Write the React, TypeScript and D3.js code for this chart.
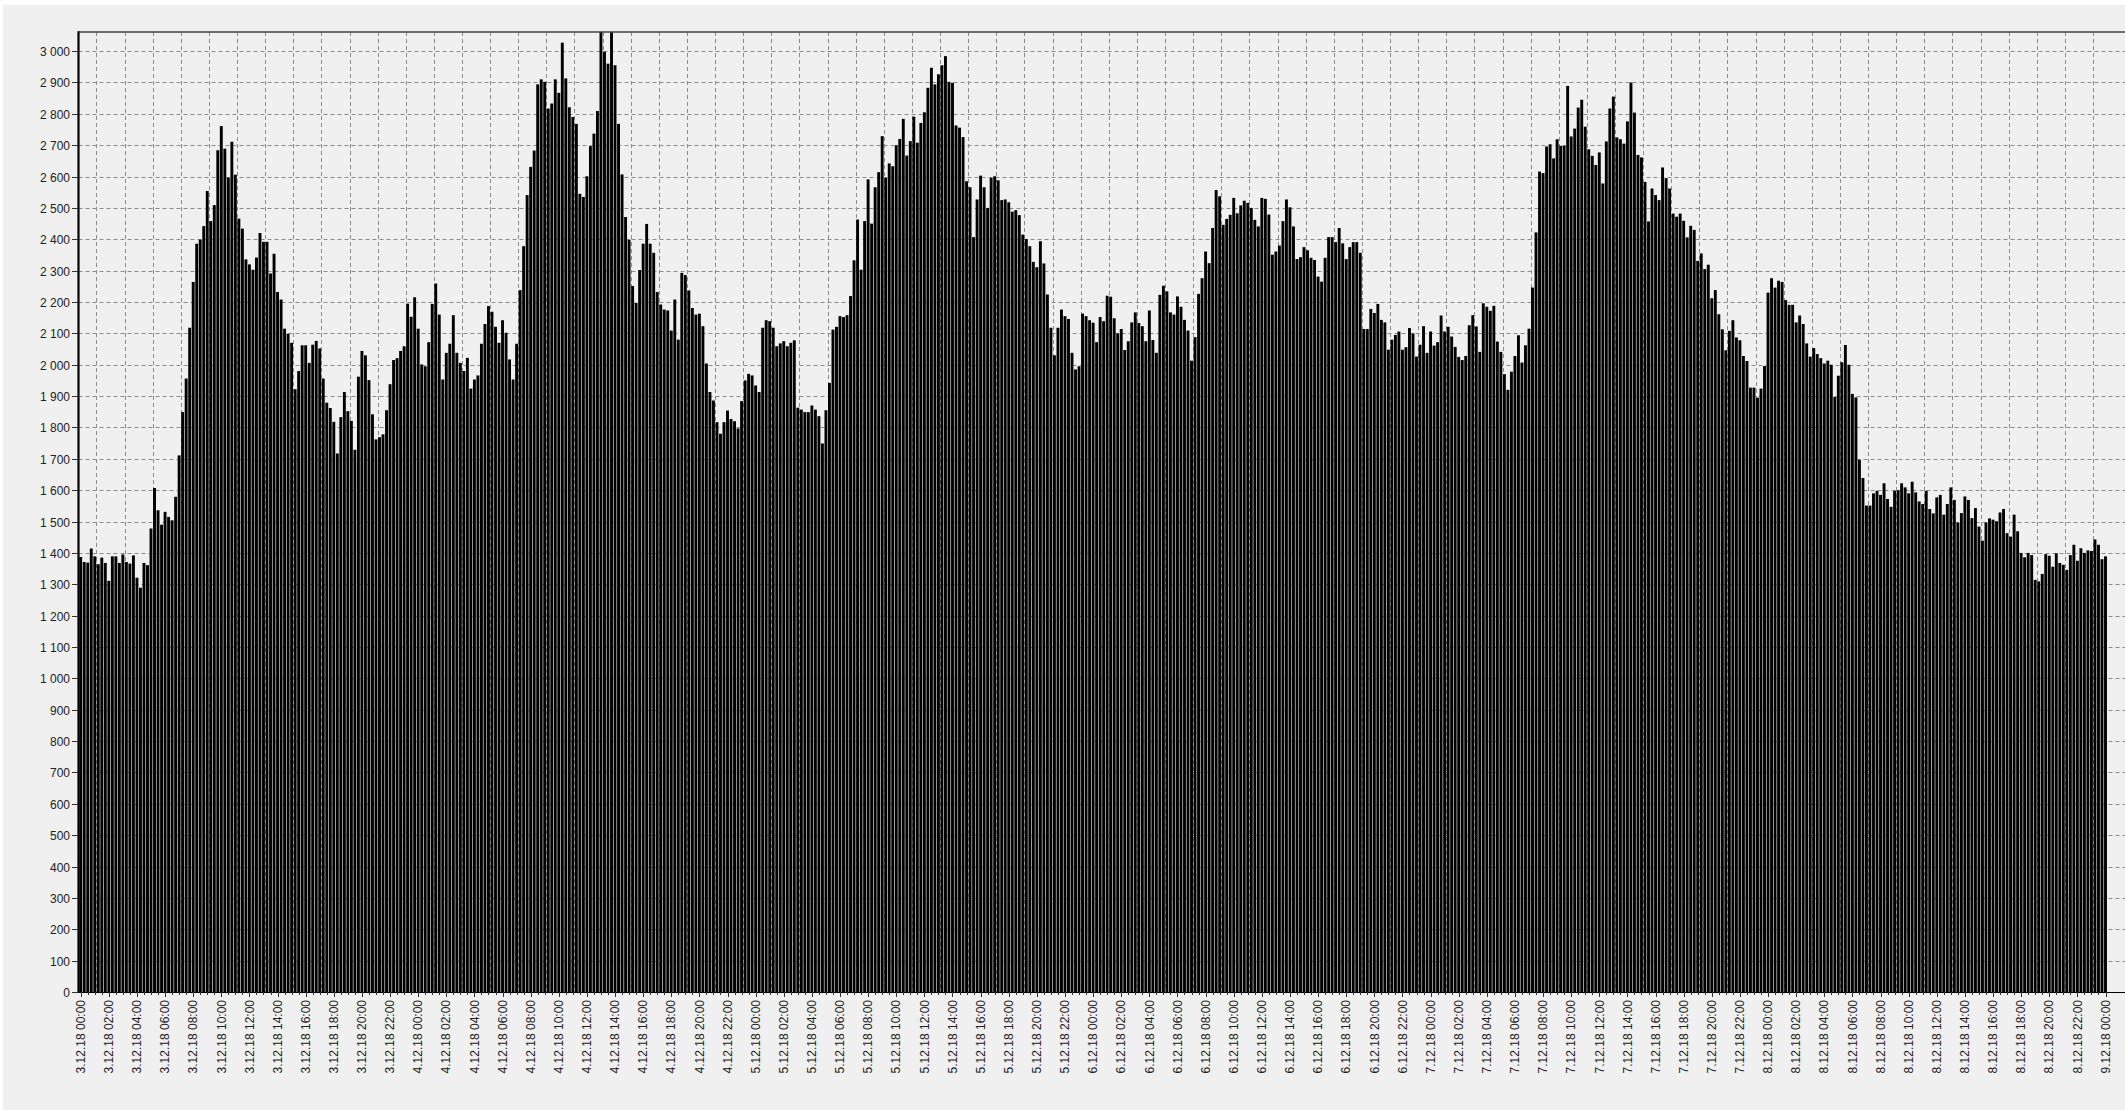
import React from "react";
import * as d3 from "d3";

const WIDTH = 2125;
const HEIGHT = 1110;

// Quarter-hour load values, one array per day (96 slots each)
const day03 = [
  1387, 1371, 1369, 1414, 1389, 1364, 1385, 1368, 1311, 1389,
  1389, 1368, 1395, 1371, 1366, 1392, 1321, 1289, 1368, 1361,
  1478, 1607, 1536, 1490, 1531, 1515, 1504, 1579, 1711, 1849,
  1956, 2118, 2264, 2386, 2399, 2442, 2554, 2458, 2509, 2684,
  2761, 2689, 2597, 2711, 2606, 2466, 2434, 2336, 2320, 2303,
  2342, 2420, 2392, 2392, 2291, 2354, 2232, 2208, 2115, 2099,
  2070, 1922, 1980, 2062, 2062, 2006, 2064, 2076, 2052, 1956,
  1879, 1862, 1818, 1717, 1833, 1913, 1852, 1821, 1729, 1962,
  2044, 2030, 1951, 1842, 1762, 1769, 1778, 1855, 1938, 2015,
  2021, 2044, 2059, 2195, 2153, 2215,
];

const day04 = [
  2115, 2001, 1995, 2072, 2194, 2259, 2160, 1953, 2038, 2067,
  2158, 2038, 2006, 1980, 2022, 1924, 1953, 1966, 2067, 2130,
  2187, 2169, 2121, 2070, 2142, 2102, 2017, 1953, 2067, 2238,
  2378, 2541, 2631, 2683, 2894, 2910, 2902, 2817, 2833, 2910,
  2867, 3027, 2913, 2821, 2790, 2768, 2545, 2535, 2601, 2697,
  2737, 2809, 3080, 2998, 2960, 3080, 2955, 2768, 2607, 2471,
  2399, 2251, 2197, 2302, 2386, 2449, 2386, 2357, 2232, 2192,
  2176, 2173, 2109, 2208, 2080, 2293, 2286, 2237, 2181, 2160,
  2163, 2123, 2004, 1913, 1886, 1817, 1780, 1817, 1854, 1827,
  1820, 1797, 1884, 1950, 1971, 1966,
];

const day05 = [
  1934, 1913, 2118, 2142, 2139, 2118, 2059, 2068, 2075, 2059,
  2070, 2078, 1863, 1857, 1849, 1849, 1870, 1857, 1836, 1749,
  1855, 1942, 2112, 2121, 2155, 2152, 2158, 2219, 2333, 2463,
  2303, 2458, 2591, 2450, 2566, 2614, 2729, 2596, 2642, 2633,
  2700, 2720, 2784, 2667, 2713, 2791, 2708, 2771, 2805, 2883,
  2947, 2894, 2926, 2955, 2984, 2902, 2899, 2763, 2756, 2726,
  2585, 2566, 2407, 2527, 2603, 2566, 2500, 2596, 2601, 2588,
  2525, 2527, 2518, 2488, 2493, 2477, 2415, 2401, 2378, 2328,
  2311, 2394, 2323, 2224, 2118, 2030, 2118, 2176, 2155, 2146,
  2038, 1985, 1995, 2163, 2155, 2142,
];

const day06 = [
  2134, 2072, 2152, 2139, 2220, 2217, 2148, 2100, 2114, 2047,
  2075, 2135, 2167, 2133, 2123, 2075, 2173, 2079, 2038, 2223,
  2252, 2234, 2167, 2160, 2218, 2185, 2143, 2109, 2013, 2088,
  2226, 2276, 2361, 2324, 2436, 2557, 2537, 2446, 2465, 2478,
  2532, 2483, 2508, 2523, 2516, 2500, 2462, 2441, 2532, 2529,
  2479, 2351, 2361, 2380, 2458, 2527, 2502, 2441, 2337, 2343,
  2375, 2365, 2341, 2334, 2281, 2265, 2341, 2407, 2407, 2391,
  2436, 2387, 2337, 2375, 2391, 2391, 2357, 2114, 2114, 2178,
  2165, 2194, 2143, 2135, 2048, 2080, 2095, 2106, 2048, 2056,
  2117, 2100, 2026, 2064, 2123, 2038,
];

const day07 = [
  2106, 2061, 2072, 2157, 2106, 2121, 2090, 2057, 2025, 2015,
  2028, 2126, 2158, 2122, 2041, 2196, 2185, 2172, 2188, 2074,
  2041, 1970, 1920, 1978, 2028, 2094, 2007, 2062, 2115, 2246,
  2422, 2616, 2611, 2696, 2703, 2658, 2719, 2698, 2698, 2889,
  2728, 2753, 2820, 2845, 2759, 2687, 2666, 2637, 2677, 2578,
  2712, 2817, 2855, 2725, 2719, 2705, 2776, 2900, 2804, 2669,
  2661, 2583, 2457, 2562, 2541, 2525, 2629, 2595, 2562, 2482,
  2472, 2482, 2459, 2406, 2443, 2430, 2331, 2355, 2305, 2319,
  2212, 2238, 2161, 2113, 2046, 2108, 2142, 2087, 2078, 2028,
  2012, 1927, 1927, 1895, 1924, 1996,
];

const day08 = [
  2230, 2276, 2246, 2268, 2264, 2206, 2191, 2191, 2135, 2157,
  2130, 2068, 2026, 2053, 2034, 2021, 2004, 2013, 2000, 1898,
  1965, 2008, 2063, 2000, 1907, 1896, 1697, 1639, 1551, 1551,
  1590, 1598, 1585, 1622, 1572, 1547, 1598, 1600, 1622, 1609,
  1590, 1627, 1593, 1564, 1556, 1598, 1540, 1526, 1577, 1585,
  1522, 1556, 1609, 1569, 1497, 1527, 1580, 1569, 1511, 1543,
  1484, 1439, 1497, 1510, 1506, 1501, 1529, 1540, 1463, 1452,
  1522, 1469, 1400, 1386, 1400, 1393, 1314, 1309, 1333, 1396,
  1391, 1356, 1399, 1368, 1362, 1346, 1393, 1426, 1375, 1415,
  1400, 1408, 1406, 1443, 1426, 1380,
];

const day09 = [1389];

const yTicks = [
  0, 100, 200, 300, 400, 500, 600, 700, 800, 900, 1000,
  1100, 1200, 1300, 1400, 1500, 1600, 1700, 1800, 1900, 2000,
  2100, 2200, 2300, 2400, 2500, 2600, 2700, 2800, 2900, 3000,
];

const START = new Date(2018, 11, 3, 0, 0);
const END = new Date(2018, 11, 9, 0, 0);
const STEP_MINUTES = 15;
const LABEL_EVERY_HOURS = 2;

const FONT = "'Liberation Sans', Arial, sans-serif";

const numberLocale = d3.formatLocale({
  decimal: ",",
  thousands: " ",
  grouping: [3],
  currency: ["", ""],
});
const fmtY = numberLocale.format(",d");
const fmtX = d3.timeFormat("%-d.%m.%y %H:%M");

export default function App() {
  const values = [...day03, ...day04, ...day05, ...day06, ...day07, ...day08, ...day09];
  const bars = values.map((v, i) => ({
    t: d3.timeMinute.offset(START, i * STEP_MINUTES),
    v,
  }));

  const plotLeft = 78.5;
  const plotTop = 32;
  const plotBottom = 992;
  const plotRight = WIDTH;

  const x = d3.scaleTime().domain([START, END]).range([80.7, 2105.5]);
  const y = d3.scaleLinear().domain([0, 3061]).range([plotBottom, plotTop]);

  const labelTimes = d3.timeHour
    .every(LABEL_EVERY_HOURS)!
    .range(START, d3.timeMinute.offset(END, 1));
  // grid sits halfway between the 5th and 6th bar after each label
  const gridTimes = labelTimes
    .slice(0, -1)
    .map((t) => d3.timeMinute.offset(t, 4.5 * STEP_MINUTES));
  const minorTickTimes = d3.timeMinute
    .every(30)!
    .range(START, d3.timeMinute.offset(END, 1));

  const barW = 2.9;
  const gridColor = "#8c8c8c";

  return (
    <svg
      width={WIDTH}
      height={HEIGHT}
      style={{ position: "absolute", left: 0, top: 0, display: "block" }}
      fontFamily={FONT}
    >
      <defs>
        <clipPath id="plot-clip">
          <rect x={plotLeft} y={plotTop} width={plotRight - plotLeft} height={plotBottom - plotTop} />
        </clipPath>
      </defs>
      <rect x={0} y={0} width={WIDTH} height={HEIGHT} fill="#ffffff" />
      <rect x={3} y={5} width={WIDTH - 3} height={HEIGHT - 5} fill="#f0f0f0" />

      {/* horizontal grid */}
      {yTicks.map((t) => (
        <line
          key={`hg${t}`}
          x1={plotLeft}
          x2={plotRight}
          y1={Math.round(y(t)) + 0.5}
          y2={Math.round(y(t)) + 0.5}
          stroke={gridColor}
          strokeWidth={1}
          strokeDasharray="4,3"
        />
      ))}
      {/* vertical grid */}
      {gridTimes.map((t, i) => (
        <line
          key={`vg${i}`}
          x1={Math.round(x(t)) + 0.5}
          x2={Math.round(x(t)) + 0.5}
          y1={plotTop}
          y2={plotBottom}
          stroke={gridColor}
          strokeWidth={1}
          strokeDasharray="4,3"
        />
      ))}

      {/* bars */}
      <g clipPath="url(#plot-clip)">
        {bars.map((d, i) => (
          <rect
            key={i}
            x={x(d.t) - barW / 2}
            y={y(d.v)}
            width={barW}
            height={plotBottom - y(d.v)}
            fill="#000000"
          />
        ))}
      </g>

      {/* frame */}
      <line x1={plotLeft} x2={plotRight} y1={plotTop} y2={plotTop} stroke="#444" strokeWidth={1.5} />
      <line x1={plotLeft} x2={plotRight} y1={plotBottom + 0.5} y2={plotBottom + 0.5} stroke="#000" strokeWidth={1} />
      <line x1={plotLeft} x2={plotLeft} y1={plotTop - 0.75} y2={plotBottom + 1} stroke="#000" strokeWidth={2.2} />

      {/* y axis ticks and labels */}
      {yTicks.map((t) => (
        <g key={`yt${t}`} transform={`translate(0,${Math.round(y(t)) + 0.5})`}>
          <line x1={72} x2={plotLeft} stroke="#333" strokeWidth={1} />
          <text x={70} dy="0.35em" textAnchor="end" fontSize={12} fill="#222">
            {fmtY(t)}
          </text>
        </g>
      ))}

      {/* x axis ticks */}
      {minorTickTimes.map((t, i) => (
        <line
          key={`xm${i}`}
          x1={Math.round(x(t)) + 0.5}
          x2={Math.round(x(t)) + 0.5}
          y1={plotBottom}
          y2={plotBottom + (i % 4 === 0 ? 5 : 3)}
          stroke="#333"
          strokeWidth={1}
        />
      ))}
      {labelTimes.map((t, i) => (
        <text
          key={`xl${i}`}
          transform={`translate(${x(t)},1000) rotate(-90)`}
          dy="0.35em"
          textAnchor="end"
          fontSize={12}
          fill="#222"
        >
          {fmtX(t)}
        </text>
      ))}
    </svg>
  );
}
